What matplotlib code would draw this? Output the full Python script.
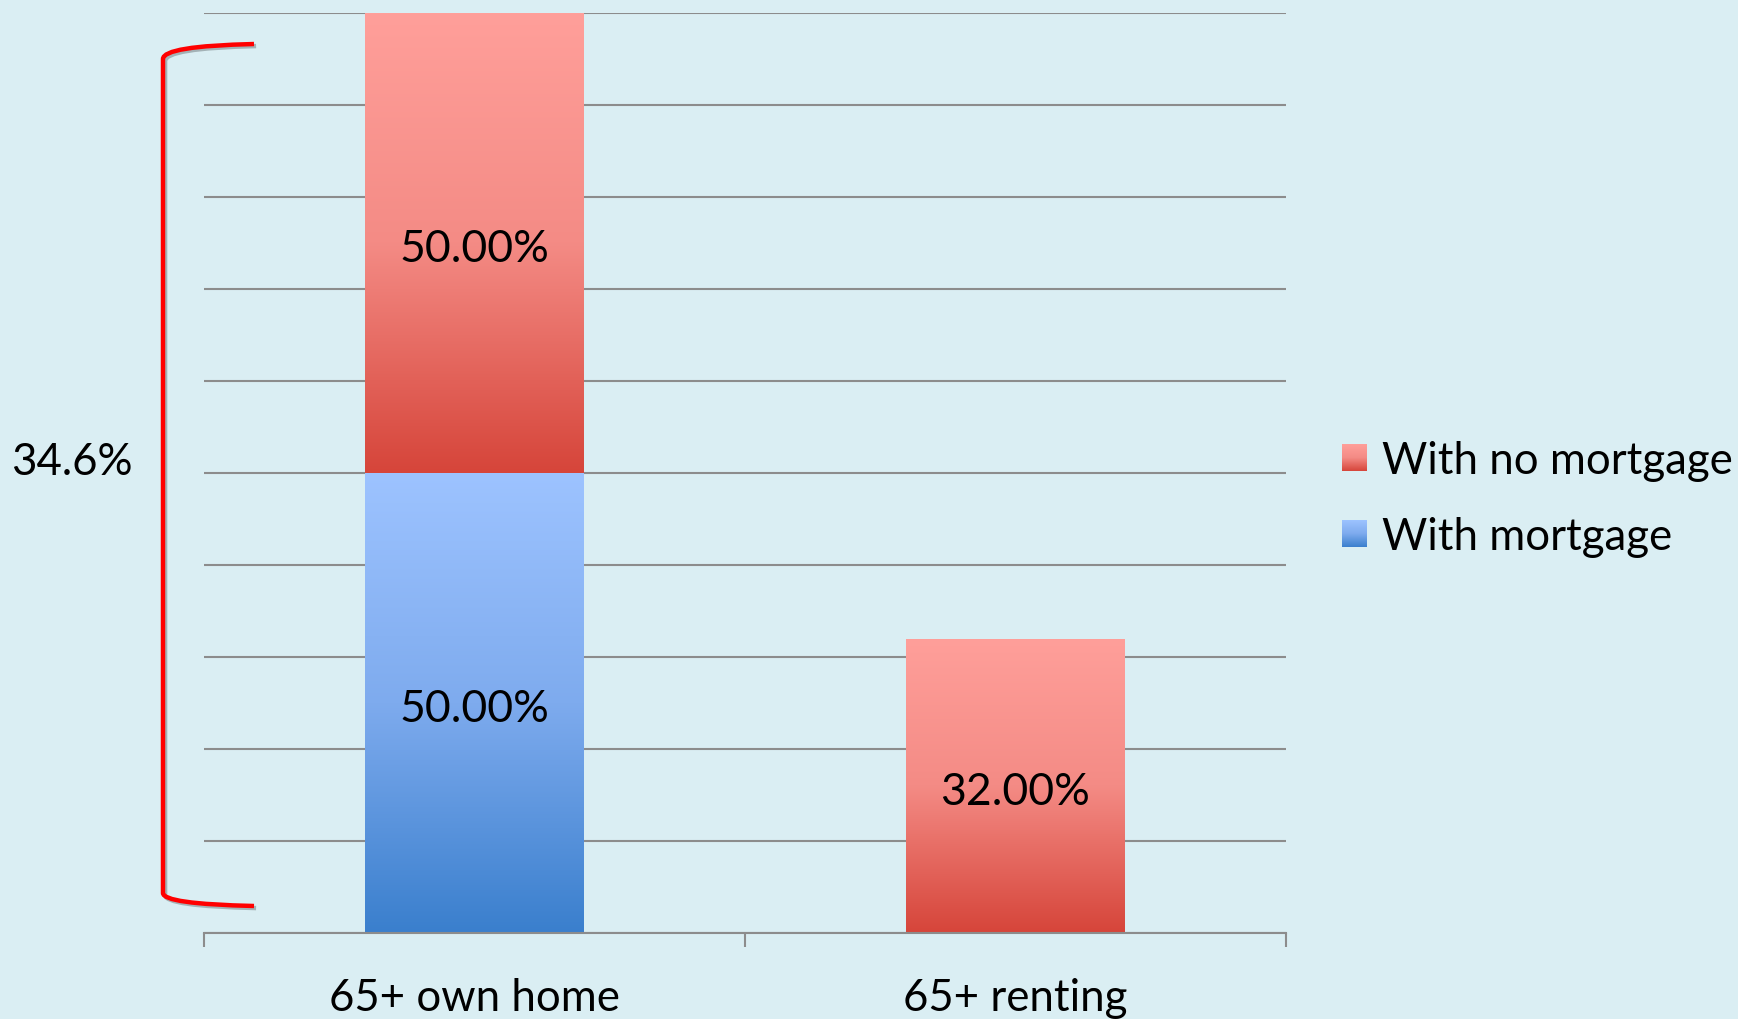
import numpy as np
import matplotlib
matplotlib.use("Agg")
import matplotlib.pyplot as plt
from matplotlib.colors import LinearSegmentedColormap, Normalize
from matplotlib.patches import Rectangle, PathPatch
from matplotlib.path import Path
from matplotlib.legend_handler import HandlerBase
from matplotlib.image import BboxImage
from matplotlib.transforms import Bbox, TransformedBbox
import matplotlib.patheffects as pe

plt.rcParams['font.family'] = ['Lato', 'DejaVu Sans']

# data
categories = ["65+ own home", "65+ renting"]
with_mortgage = [50.0, 0.0]
no_mortgage = [50.0, 32.0]
series_names = ["With no mortgage", "With mortgage"]
bracket_label = "34.6%"

bg = "#DAEEF3"
grid_col = "#8C8C8C"
red_cmap = LinearSegmentedColormap.from_list("red", ["#FF9F9A", "#F48B85", "#D6453A"])
blue_cmap = LinearSegmentedColormap.from_list("blue", ["#9DC3FF", "#7EABEE", "#3A7FCD"])
grad = np.linspace(0, 1, 256).reshape(-1, 1)

fig = plt.figure(figsize=(17.38, 10.2), dpi=100, facecolor=bg)
ax = fig.add_axes([204 / 1738, 86 / 1020, (1286 - 204) / 1738, (934 - 14.4) / 1020])
ax.set_facecolor(bg)

x = np.arange(len(categories))
width = 0.404
b1 = ax.bar(x, with_mortgage, width, facecolor="none", edgecolor="none", zorder=3)
b2 = ax.bar(x, no_mortgage, width, bottom=with_mortgage, facecolor="none", edgecolor="none", zorder=3)


def fill_gradient(bars, cmap):
    for bar in bars:
        if bar.get_height() <= 0:
            continue
        x0, y0 = bar.get_x(), bar.get_y()
        im = ax.imshow(grad, cmap=cmap, norm=Normalize(0, 1), aspect="auto", origin="upper",
                       extent=(x0, x0 + bar.get_width(), y0, y0 + bar.get_height()),
                       interpolation="bilinear", zorder=2.5)
        im.set_clip_path(bar)


fill_gradient(b1, blue_cmap)
fill_gradient(b2, red_cmap)

for bars in (b1, b2):
    labels = [f"{b.get_height():.2f}%" if b.get_height() > 0 else "" for b in bars]
    anns = ax.bar_label(bars, labels=labels, label_type="center", fontsize=32, color="black", zorder=4)
    for a in anns:
        a.xyann = (0, -4)

ax.set_xlim(-0.5, 1.5)
ax.set_ylim(0, 100)
ax.set_yticks(np.arange(0, 101, 10))
ax.tick_params(axis="y", length=0, labelleft=False)
ax.yaxis.grid(True, color=grid_col, linewidth=1.5, zorder=1)
ax.set_axisbelow(True)

ax.set_xticks(x)
ax.set_xticklabels(categories, fontsize=31.5)
ax.set_xticks([-0.5, 0.5, 1.5], minor=True)
ax.tick_params(axis="x", which="major", length=0, pad=32)
ax.tick_params(axis="x", which="minor", length=10, width=1.5, color=grid_col)

for s in ["top", "right", "left"]:
    ax.spines[s].set_visible(False)
ax.spines["bottom"].set_color(grid_col)
ax.spines["bottom"].set_linewidth(1.5)


# legend with gradient squares
class GradientHandler(HandlerBase):
    def __init__(self, cmap):
        super().__init__()
        self.cmap = cmap

    def create_artists(self, legend, orig_handle, xdescent, ydescent, width, height, fontsize, trans):
        bb = Bbox.from_bounds(-xdescent, -ydescent, width, height)
        img = BboxImage(TransformedBbox(bb, trans), cmap=self.cmap, norm=Normalize(0, 1),
                        interpolation="bilinear")
        img.set_data(grad)
        return [img]


h_red = Rectangle((0, 0), 1, 1)
h_blue = Rectangle((0, 0), 1, 1)
fig.legend([h_red, h_blue], series_names, loc="center left",
           bbox_to_anchor=(1342 / 1738, 1 - 499.5 / 1020), frameon=False, fontsize=31.5,
           borderpad=0, borderaxespad=0,
           handlelength=0.57, handleheight=0.57, handletextpad=0.35, labelspacing=0.8,
           handler_map={h_red: GradientHandler(red_cmap), h_blue: GradientHandler(blue_cmap)})

# red bracket on the left
W, H = 1738, 1020
pts = [(254, 45), (163, 47), (163, 60), (163, 894), (163, 905), (254, 907)]
verts = [(px / W, 1 - py / H) for px, py in pts]
codes = [Path.MOVETO, Path.CURVE3, Path.CURVE3, Path.LINETO, Path.CURVE3, Path.CURVE3]
bracket = PathPatch(Path(verts, codes), transform=fig.transFigure, facecolor="none",
                    edgecolor="#FF0000", linewidth=3.2, capstyle="butt",
                    path_effects=[pe.SimpleLineShadow(offset=(1.5, -1.5), alpha=0.25), pe.Normal()])
fig.add_artist(bracket)
fig.text(11 / W, 1 - 463 / H, bracket_label, fontsize=31.5, ha="left", va="center")

fig.savefig("out.png", dpi=100, facecolor=bg)
